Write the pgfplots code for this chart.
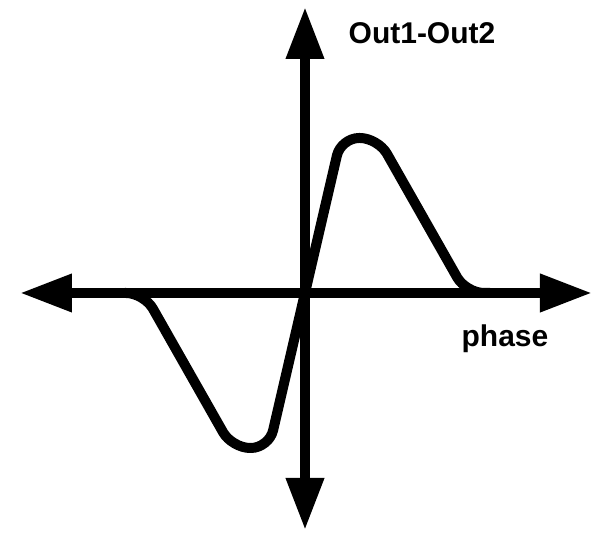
\documentclass[border=0pt]{standalone}
\usepackage{fontspec}
\setmainfont{Liberation Sans}
\usepackage{pgfplots}
\pgfplotsset{compat=1.18}
\usetikzlibrary{arrows.meta}
\begin{document}
\begin{tikzpicture}
\begin{axis}[
  x=0.5pt, y=0.5pt,
  axis lines=middle,
  xmin=-285, xmax=287, ymin=-237, ymax=286,
  xtick=\empty, ytick=\empty,
  clip=false,
  axis line style={line width=5pt, {Triangle[length=26pt,width=18pt]}-{Triangle[length=26pt,width=18pt]}},
]
\path (axis cs:-305,-238) rectangle (axis cs:297,293);
\addplot[black, line width=5pt, rounded corners=9pt, line join=round, line cap=round] coordinates {
(-180,0) (-161,0) (-73,-155) (-36,-155) (36,155) (73,155) (161,0) (185,0)
};
\node[anchor=base, font=\bfseries\fontsize{15}{18}\selectfont] at (axis cs:117,249) {Out1-Out2};
\node[anchor=base, font=\bfseries\fontsize{15}{18}\selectfont] at (axis cs:200,-54) {phase};
\end{axis}
\end{tikzpicture}
\end{document}
